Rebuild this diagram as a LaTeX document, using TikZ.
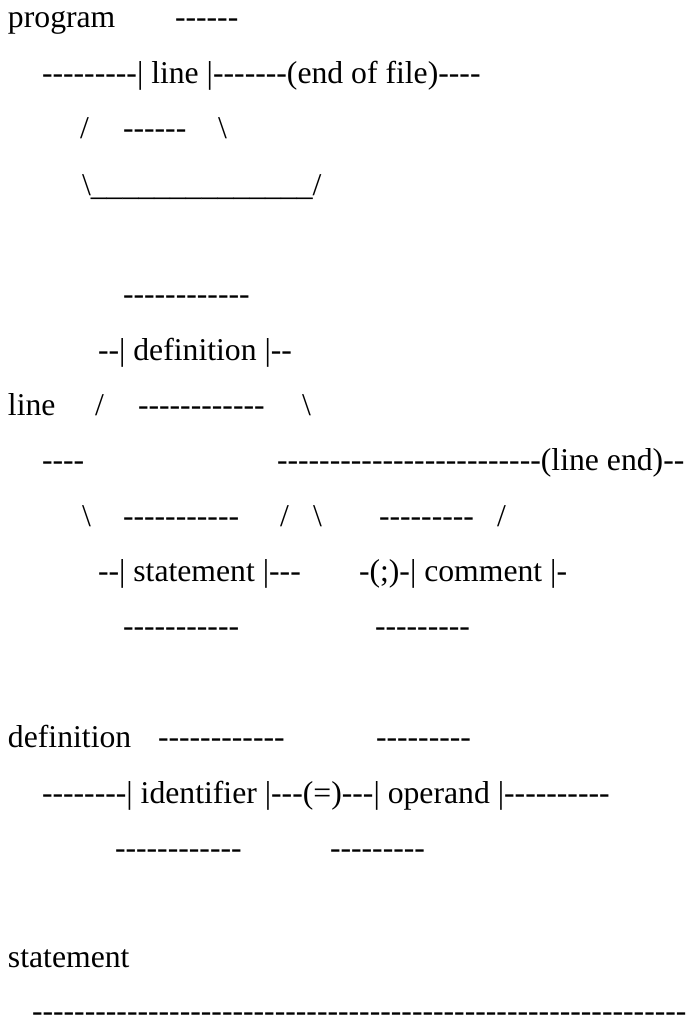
\documentclass[tikz,border=0pt]{standalone}
\usepackage{fontspec}
\setmainfont{Liberation Serif}[Ligatures=TeXOff]
\usepackage{tikz}

\newcommand{\bks}{\textbackslash}

\begin{document}
\begin{tikzpicture}[x=1pt, y=1pt,
  txt/.style={anchor=base west, inner sep=0pt, outer sep=0pt, font=\fontsize{31.7}{38}\selectfont}
]
\fill[white] (0,0) rectangle (688,-1016);
\useasboundingbox (0,0) rectangle (688,-1016);
\clip (0,0) rectangle (688,-1016);

% program
\node[txt] (prog) at (8,-28) {program};
\node[txt] (progtop) at (175,-28) {------};
\node[txt] (progmain) at (42,-83.4) {---------| line |-------(end of file)----};
\node[txt] (loopup) at (80,-138.7) {/};
\node[txt] (progbot) at (123,-138.7) {------};
\node[txt] (loopdn) at (218,-138.7) {\bks};
\node[txt] (loopback) at (82,-196) {\bks\_\_\_\_\_\_\_\_\_\_\_\_\_\_/};

% line
\node[txt] (deftop) at (123,-304.8) {------------};
\node[txt] (defmid) at (98,-360) {--| definition |--};
\node[txt] (line) at (8,-415.5) {line};
\node[txt] (defin) at (95,-415.5) {/};
\node[txt] (defbot) at (138,-415.5) {------------};
\node[txt] (defout) at (302,-415.5) {\bks};
\node[txt] (linein) at (42,-470.8) {----};
\node[txt] (lineout) at (277,-470.8) {-------------------------(line end)--};
\node[txt] (stmin) at (82,-526) {\bks};
\node[txt] (stmtop) at (123,-526) {-----------};
\node[txt] (stmout) at (280,-526) {/};
\node[txt] (cmtin) at (313,-526) {\bks};
\node[txt] (cmttop) at (379,-526) {---------};
\node[txt] (cmtout) at (497,-526) {/};
\node[txt] (stmmid) at (98,-581.5) {--| statement |---};
\node[txt] (cmtmid) at (359,-581.5) {-(;)-| comment |-};
\node[txt] (stmbot) at (123,-636.9) {-----------};
\node[txt] (cmtbot) at (375,-636.9) {---------};

% definition
\node[txt] (defn) at (8,-747.6) {definition};
\node[txt] (idtop) at (158,-747.6) {------------};
\node[txt] (optop) at (376,-747.6) {---------};
\node[txt] (defnmain) at (42,-803) {--------| identifier |---(=)---| operand |----------};
\node[txt] (idbot) at (115,-858) {------------};
\node[txt] (opbot) at (330,-858) {---------};

% statement
\node[txt] (stmt) at (8,-967) {statement};
\node[txt] (stmtmain) at (32,-1021) {--------------------------------------------------------------};

\end{tikzpicture}
\end{document}
